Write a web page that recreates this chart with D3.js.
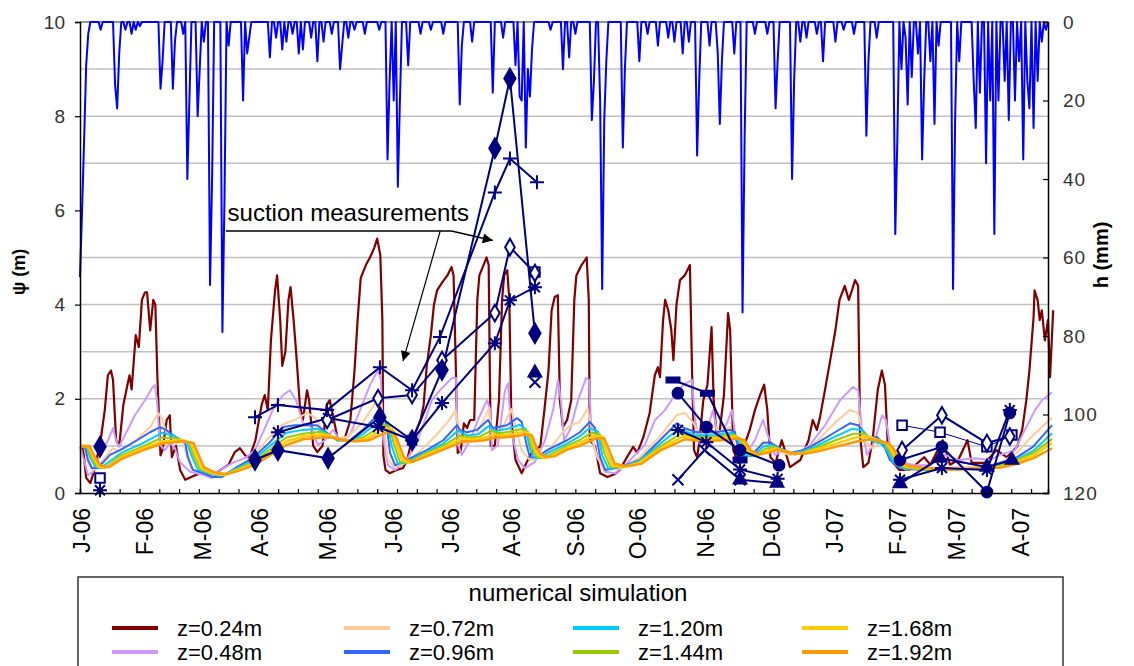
<!DOCTYPE html>
<html><head><meta charset="utf-8">
<script src="https://cdn.jsdelivr.net/npm/d3@7"></script>
<style>
body{margin:0;background:#fff}
svg{display:block}
text{font-family:"Liberation Sans",Arial,sans-serif}
</style>
</head><body>
<svg id="chart" width="1134" height="666"></svg>
<script>
// ---------- DATA ----------
// x values are days since 1 Jan 2006
// category-label positions
const monthTickDays = [1,31.5,59.6,87.2,120.2,152.1,179.7,209.3,240.3,270.3,303.3,335.3,365.8,396.3,424.9,455.9];
const monthLabels = ["J-06","F-06","M-06","A-06","M-06","J-06","J-06","A-06","S-06","O-06","N-06","D-06","J-07","F-07","M-07","A-07"];
const psiTicks = [0,2,4,6,8,10];
const psiGrid = [1,2,3,4,5,7,8,9];
const hTicks = [0,20,40,60,80,100,120];
const depthLabels = ["z=0.24m","z=0.48m","z=0.72m","z=0.96m","z=1.20m","z=1.44m","z=1.68m","z=1.92m"];
const depthColors = ["#800000","#CC99FF","#FFCC99","#3366FF","#00CCFF","#99CC00","#FFCC00","#FF9900"];

// daily rainfall h (mm): [day, mm] for rainy days (other days 0)
const rainEvents = [[0,65],[1,48],[2,30],[3,11],[4,3],[10,2],[17,16],[18,22],[19,8],[22,2],[25,3],[27,2],[29,1],
[39,17],[40,10],[45,17],[46,5],[50,3],[52,40],[53,20],[57,24],[58,12],[60,5],[63,67],[64,40],[69,79],[70,45],[72,6],
[79,20],[81,8],[82,4],[92,9],[95,4],[98,7],[100,5],[103,3],[106,8],[108,7],[112,4],[115,10],[118,5],[122,3],[126,12],[127,6],
[130,4],[133,2],[138,3],[145,2],[149,35],[150,15],[152,20],[154,42],[155,20],[159,11],[165,3],[170,2],[176,3],[184,21],[185,6],
[190,5],[200,18],[205,4],[211,11],[213,19],[214,20],[216,32],[217,12],[218,19],[219,7],[228,2],[234,12],[237,9],[240,3],
[248,25],[249,15],[252,20],[253,68],[254,25],[255,10],[263,32],[264,12],[271,10],[275,3],[280,6],[285,4],[288,5],[292,8],
[295,5],[299,34],[300,15],[305,6],[309,8],[310,26],[311,10],[317,8],[321,74],[322,30],[327,3],[333,3],[337,22],[338,10],
[345,40],[346,15],[349,5],[352,4],[357,3],[360,10],[366,5],[370,2],[375,3],[381,29],[382,10],[386,4],
[395,54],[396,30],[398,12],[400,4],[401,21],[403,14],[406,8],[408,35],[409,15],[412,10],[414,26],[416,6],
[423,68],[424,25],[426,10],[433,15],[434,27],[436,18],[439,36],[441,20],[443,54],[445,20],[448,15],[450,25],[453,20],
[455,10],[457,35],[459,15],[460,22],[462,27],[464,15],[466,5],[468,2]];
const rainLastDay = 469;

// simulated suction psi (m) at each depth: [day, psi]
const sim024 = [[0,0.98],[1.5,0.95],[3,0.32],[5,0.21],[7,0.49],[10,1.12],[12,1.76],[13.5,2.5],[15,2.6],[16,2.4],[17.5,1.12],[19,1.0],[21,1.87],[23,2.3],[24,2.5],[25,2.2],[27,3.35],[28.5,3.1],[30,4.1],[31.5,4.26],[32.5,4.26],[34,3.45],[35.5,4.1],[36.5,4.0],[37.5,2.45],[39,0.8],[40,0.91],[42,1.55],[43.5,1.65],[44.5,0.76],[46.5,1.0],[48.5,0.49],[51,0.28],[56,0.38],[60.5,0.45],[64,0.34],[68,0.49],[72,0.6],[75,0.87],[77.5,0.95],[80,0.8],[82,0.74],[85,1.12],[88,1.87],[89.5,2.08],[91,1.76],[92.5,3.24],[94.5,4.3],[95.5,4.62],[97,3.67],[98,2.7],[99.5,3.0],[101,4.1],[102,4.37],[103.5,3.67],[105,2.82],[106.5,1.87],[108,1.55],[110,2.18],[111,1.97],[113,1.0],[115,0.87],[117.5,1.0],[119.5,1.87],[121,1.97],[123,1.55],[125,1.12],[128,1.12],[131,1.55],[133,2.6],[134.5,3.67],[136,4.56],[138.5,4.84],[140.5,5.0],[142.5,5.2],[144,5.4],[145.5,5.05],[146.5,3.67],[147,0.8],[148,0.49],[150,0.42],[153.5,0.49],[156.5,0.53],[158.5,0.7],[160,0.98],[162,1.23],[165,1.55],[166.5,1.87],[168,2.7],[170,3.35],[171.5,4.0],[173,4.3],[175.5,4.47],[178,4.62],[180,4.8],[181,4.62],[182,2.82],[183,0.85],[184.5,0.91],[186,1.48],[187.5,1.38],[189,1.55],[191,1.55],[192.5,4.1],[193.5,4.62],[195.5,4.84],[197,5.0],[198,4.84],[198.5,2.82],[199,1.0],[201,1.0],[203,1.97],[204.5,4.1],[205.5,4.62],[207,4.73],[208,4.1],[209,1.55],[211,0.7],[214,0.42],[216.5,0.66],[219.5,0.91],[223,0.98],[225,1.76],[227,2.6],[228.5,3.88],[230,4.16],[231.5,4.2],[232.5,1.97],[234,1.4],[236,1.55],[238,1.97],[239.5,4.1],[240.5,4.62],[243,4.84],[245.5,5.0],[246.5,4.1],[247,1.12],[249.5,1.0],[252,0.42],[255.5,0.34],[259,0.4],[261.5,0.49],[265,0.76],[268,0.98],[270,0.85],[273,1.19],[276,1.7],[278.5,2.5],[280,2.67],[281,2.46],[282.5,3.67],[283.5,4.1],[285,3.88],[286.5,3.46],[287.5,2.82],[289,4.0],[290.7,4.52],[293,4.62],[295.5,4.84],[296.5,2.67],[297.5,0.91],[299,0.76],[300,1.06],[302,1.97],[304,2.3],[306,3.52],[307,1.97],[308.5,1.23],[310,1.34],[312,2.08],[314,3.82],[315,3.46],[316.5,0.91],[319,0.64],[321,0.91],[324.5,1.34],[327,1.76],[329.5,2.08],[331.5,2.3],[333,1.76],[334.5,0.76],[337,0.64],[340,1.12],[341.5,0.91],[344,0.55],[349,0.7],[353,1.12],[355,1.55],[357,1.34],[358.5,1.6],[361,2.2],[363.5,2.82],[366,3.46],[368,4.1],[370.5,4.4],[372.5,4.1],[374,4.3],[375.5,4.52],[377,4.4],[378,1.19],[379.5,0.55],[382,0.64],[384,1.12],[386.5,2.18],[388.5,2.6],[390,2.3],[391.5,0.91],[394,0.64],[397,0.49],[402,0.49],[409,0.76],[412,0.6],[418,1.12],[421.5,0.6],[425.5,0.7],[430,1.12],[432,0.64],[438.5,0.64],[444,0.91],[449,0.76],[454,0.98],[456.5,1.34],[458.5,1.97],[460,2.6],[462,3.73],[462.5,4.3],[464,4.09],[465,3.67],[466,3.88],[467.5,3.24],[469,3.67],[470,2.46],[471.5,3.88]];
const sim048 = [[0,0.98],[1.9,0.70],[3.9,0.38],[6.3,0.45],[9.7,0.81],[13.6,1.12],[16,1.38],[17.4,1.12],[18.9,0.98],[21.8,1.23],[26.6,1.65],[31.5,1.97],[34.9,2.23],[36.3,2.29],[37.3,1.97],[38.8,1.02],[41.2,0.91],[43.6,1.06],[46,0.95],[48.4,0.66],[53.3,0.45],[58.1,0.40],[64,0.32],[67.8,0.49],[75,0.66],[80,0.74],[84.8,0.91],[89.6,1.38],[94.5,1.87],[98.4,2.08],[101.7,2.18],[104.7,1.97],[108,1.48],[111.4,1.44],[115.3,1.02],[118.7,1.12],[122.6,1.34],[126,1.12],[130.8,1.23],[135.7,1.76],[140.5,2.29],[144.4,2.61],[145.8,2.40],[146.8,1.19],[149.2,0.59],[152.6,0.49],[157.5,0.66],[162.3,0.98],[167.2,1.55],[170.5,1.97],[174.4,2.18],[180.2,2.44],[182.2,2.44],[183.1,1.02],[185,0.81],[189,1.12],[192.8,1.55],[197.2,1.97],[198.6,1.80],[199.6,0.91],[202.5,1.02],[205.9,2.18],[207.4,2.33],[208.8,1.34],[212.2,0.70],[215.6,0.53],[220.4,0.66],[225.3,1.12],[229.2,1.76],[231.6,2.40],[233,1.97],[234.5,1.12],[237.4,1.34],[241.3,1.97],[245.2,2.44],[246.6,2.40],[248,1.12],[250.5,0.81],[254.4,0.45],[259.2,0.42],[264,0.59],[268.9,0.81],[273.7,1.02],[278.6,1.55],[283.4,1.76],[288.3,2.08],[292.2,2.29],[296.5,2.40],[298,1.55],[300.4,1.02],[303.8,1.34],[306.7,1.76],[308.1,1.44],[310,1.12],[314,1.55],[315.9,1.76],[317.8,1.12],[322.2,0.81],[327,1.12],[330.9,1.55],[333.3,1.23],[336.7,0.81],[341.6,0.91],[346.4,0.81],[353.7,1.02],[361,1.44],[368.2,1.97],[374.5,2.25],[377,2.18],[378.9,1.34],[381.3,0.81],[385.2,1.12],[388.6,1.65],[390.5,1.55],[392.4,1.02],[397.3,0.66],[404.5,0.59],[411.8,0.59],[419,0.81],[426,0.70],[433.6,0.74],[440.9,0.70],[445.7,0.81],[453,0.91],[457.8,1.34],[462.7,1.76],[466.1,1.97],[471,2.14]];
const sim072 = [[0,0.98],[2,0.98],[3.5,0.7],[5.5,0.5],[8,0.5],[12,0.75],[16,0.95],[18,0.9],[22,0.95],[28,1.15],[34,1.4],[38,1.7],[40,1.55],[42,1.25],[46,1.2],[50,1.05],[52,0.75],[54,0.5],[60,0.4],[68,0.33],[76,0.55],[84,0.78],[92,1.2],[98,1.45],[104,1.55],[110,1.7],[114,1.6],[118,1.3],[124,1.15],[130,1.2],[137,1.5],[144,1.97],[146,1.9],[147.5,1.3],[149,0.75],[152,0.55],[157,0.62],[165,0.9],[172,1.2],[178,1.5],[182,1.75],[183.5,1.3],[186,1.05],[190,1.1],[195,1.5],[198,1.78],[199.5,1.3],[203,1.2],[207,1.6],[209,1.78],[211,1.4],[214,0.9],[218,0.7],[223,0.75],[228,0.95],[234,1.3],[238,1.45],[242,1.5],[246,1.8],[247.5,1.4],[250,0.8],[254,0.5],[262,0.52],[271,0.75],[281,1.2],[289,1.65],[293,1.7],[297,1.5],[300,1.25],[306,1.45],[310,1.3],[315,1.4],[317,1.0],[321,0.75],[326,0.85],[331,1.1],[334,1.0],[338,0.9],[344,0.8],[350,0.9],[357,1.1],[366,1.5],[373,1.76],[377,1.7],[380,1.1],[384,0.95],[388,1.1],[391,0.9],[395,0.6],[400,0.5],[410,0.5],[425,0.55],[438,0.55],[446,0.65],[454,0.85],[460,1.15],[466,1.4],[471,1.6]];
const sim096 = [[0,0.98],[2.4,0.98],[3.9,0.70],[5.8,0.53],[8.7,0.53],[14.5,0.81],[19.4,0.91],[27.6,1.12],[33.9,1.29],[38.8,1.40],[41.7,1.34],[45,1.23],[48.4,1.12],[50.9,1.08],[52.3,0.76],[54.7,0.49],[59.6,0.42],[64.4,0.34],[68.8,0.34],[76,0.55],[83.8,0.74],[92,1.08],[98.4,1.40],[104,1.44],[108,1.44],[114.8,1.44],[117.7,1.34],[124.5,1.12],[130.8,1.12],[137,1.34],[145.3,1.70],[147.3,1.65],[148.7,1.40],[150.2,0.85],[152.6,0.59],[156.5,0.66],[168,0.91],[176,1.12],[182.7,1.44],[184,1.34],[187.5,1.29],[192.3,1.34],[197.7,1.55],[200,1.38],[206.9,1.44],[211.7,1.59],[214,1.51],[216.6,0.98],[218,0.76],[221.4,0.76],[226.3,0.91],[236,1.12],[242.2,1.29],[247,1.51],[249.5,1.38],[252,0.76],[254.4,0.49],[261.6,0.55],[271.3,0.70],[281,1.12],[289.2,1.48],[292.6,1.38],[298.9,1.29],[307.6,1.29],[314.9,1.34],[317.3,1.29],[318.8,0.98],[321.2,0.76],[325.6,0.81],[330.9,1.06],[334.3,1.08],[337.7,0.98],[344,0.85],[350.3,0.91],[357,1.06],[365.8,1.29],[373,1.48],[377,1.44],[381.8,1.19],[386.1,1.19],[389,1.06],[392.4,0.70],[397.3,0.53],[408.4,0.49],[421.5,0.49],[437.5,0.53],[445.7,0.64],[454,0.76],[461.7,0.98],[471,1.44]];
const sim120 = [[0,0.98],[3,0.98],[5,0.75],[7.5,0.55],[10,0.53],[20,0.85],[30,1.05],[40,1.28],[46,1.2],[52,1.05],[54,0.8],[57,0.5],[62,0.42],[68,0.36],[76,0.52],[84,0.7],[92,1.0],[100,1.28],[108,1.34],[115,1.36],[118,1.3],[125,1.12],[131,1.1],[137,1.25],[146,1.55],[149,1.5],[151,1.0],[154,0.62],[158,0.64],[168,0.88],[176,1.05],[183,1.32],[188,1.22],[193,1.25],[198,1.42],[201,1.32],[207,1.36],[213,1.45],[216,1.35],[218,0.95],[220,0.75],[223,0.74],[227,0.86],[236,1.05],[242,1.2],[247,1.38],[251,1.3],[253,0.8],[256,0.52],[262,0.55],[271,0.68],[281,1.04],[290,1.36],[299,1.22],[308,1.24],[316,1.28],[319,1.1],[322,0.8],[326,0.78],[331,0.98],[335,1.02],[344,0.84],[350,0.88],[357,1.0],[366,1.2],[374,1.36],[379,1.34],[383,1.12],[388,1.05],[391,0.9],[394,0.66],[398,0.54],[408,0.5],[421,0.5],[438,0.52],[446,0.6],[454,0.72],[462,0.9],[471,1.27]];
const sim144 = [[0,0.98],[3.5,0.98],[6,0.72],[8.5,0.55],[12,0.53],[20,0.8],[30,0.98],[40,1.18],[48,1.15],[53,1.05],[55,0.8],[58,0.52],[63,0.42],[69,0.38],[76,0.5],[84,0.66],[92,0.92],[100,1.18],[108,1.26],[116,1.3],[120,1.25],[126,1.12],[132,1.1],[138,1.2],[147,1.45],[150,1.42],[152,1.05],[155,0.66],[159,0.64],[168,0.85],[176,1.0],[184,1.22],[189,1.18],[194,1.2],[199,1.32],[203,1.27],[208,1.3],[214,1.36],[217,1.3],[219,0.95],[221,0.78],[224,0.74],[228,0.82],[236,1.0],[242,1.12],[248,1.28],[252,1.24],[254,0.85],[257,0.55],[263,0.55],[271,0.66],[281,0.98],[291,1.26],[300,1.18],[309,1.2],[317,1.24],[320,1.12],[323,0.85],[327,0.78],[332,0.94],[336,0.98],[344,0.84],[350,0.86],[357,0.96],[366,1.12],[375,1.26],[380,1.26],[385,1.12],[390,1.05],[392,0.92],[395,0.68],[399,0.55],[408,0.5],[421,0.5],[438,0.52],[446,0.58],[454,0.7],[462,0.85],[471,1.15]];
const sim168 = [[0,1.0],[4,1.0],[6.5,0.75],[9,0.56],[13,0.54],[20,0.76],[30,0.94],[40,1.1],[50,1.12],[54,1.05],[56,0.8],[59,0.52],[64,0.42],[70,0.38],[76,0.48],[84,0.62],[92,0.86],[100,1.1],[108,1.2],[116,1.24],[121,1.22],[127,1.12],[133,1.1],[139,1.16],[148,1.38],[151,1.36],[153,1.08],[156,0.7],[160,0.64],[168,0.82],[176,0.96],[185,1.16],[190,1.14],[195,1.16],[200,1.24],[204,1.22],[209,1.25],[215,1.3],[218,1.25],[220,0.95],[222,0.8],[225,0.74],[229,0.8],[236,0.96],[242,1.06],[249,1.22],[253,1.2],[255,0.9],[258,0.58],[264,0.56],[271,0.64],[281,0.94],[292,1.2],[301,1.14],[310,1.16],[318,1.2],[321,1.12],[324,0.88],[328,0.8],[333,0.9],[337,0.95],[345,0.84],[351,0.85],[358,0.94],[367,1.06],[376,1.18],[382,1.2],[387,1.12],[391,1.05],[393,0.92],[396,0.7],[400,0.56],[408,0.52],[421,0.5],[438,0.52],[446,0.56],[454,0.66],[462,0.8],[471,1.06]];
const sim192 = [[0,1.0],[4.5,1.0],[7,0.78],[10,0.58],[14,0.55],[20,0.72],[30,0.9],[40,1.05],[50,1.1],[55,1.06],[57,0.85],[60,0.55],[65,0.44],[71,0.4],[76,0.46],[84,0.58],[92,0.8],[100,1.02],[108,1.14],[116,1.18],[122,1.18],[128,1.12],[134,1.1],[140,1.12],[149,1.3],[152,1.3],[154,1.1],[157,0.75],[161,0.66],[168,0.78],[176,0.92],[186,1.1],[191,1.1],[196,1.12],[201,1.18],[205,1.18],[210,1.2],[216,1.24],[219,1.22],[221,0.98],[223,0.84],[226,0.76],[230,0.78],[236,0.92],[242,1.0],[250,1.16],[254,1.16],[256,0.95],[259,0.62],[265,0.57],[272,0.62],[281,0.9],[293,1.14],[302,1.1],[311,1.12],[319,1.16],[322,1.12],[325,0.9],[329,0.82],[334,0.86],[338,0.92],[346,0.84],[352,0.84],[359,0.9],[368,1.0],[377,1.1],[383,1.14],[388,1.1],[392,1.05],[394,0.95],[397,0.74],[401,0.58],[408,0.54],[421,0.5],[438,0.52],[446,0.54],[454,0.62],[462,0.74],[471,0.95]];

// suction measurements (m): [day, psi]; null = gap
const measPlus = [[84.8,1.61],[95.9,1.87],[119.7,1.76],[145.3,2.67],[160.9,2.18],[174.4,3.31],[201,6.38],[208.3,7.1],[221.4,6.6]];
const measDiamond = [[9.7,0.98],null,[84.8,0.70],[95.9,0.91],[120.2,0.74],[145.3,1.61],[160.9,1.12],[175.4,2.61],[201,7.32],[208.3,8.8],[220.4,3.39]];
const measOpenDiamond = [[119.7,1.55],[144.4,2.01],[160.9,2.08],[175.4,2.82],[201,3.82],[208.3,5.22],[220.4,4.67],null,[398.3,0.91],[417.6,1.65],[439.4,1.06],[450.5,1.2]];
const measStar = [[9.7,0.06],null,[95.9,1.29],[120.2,1.59],[144.4,1.40],[160.9,1.12],[175.4,1.91],[201,3.18],[208.3,4.09],[220.4,4.37],null,[289.7,1.34],[303.5,1.08],[319.8,0.5],[338,0.3],null,[397.3,0.28],[417.6,0.53],[439.4,0.49],[450.5,1.76]];
const measSquare = [[9.7,0.32],null,[220.4,4.69],null,[398.3,1.44],[416.7,1.29],[439.4,0.98],[451.5,1.23]];
const measCircle = [[289.7,2.12],[303.5,1.40],[319.8,0.91],[338.7,0.59],null,[397.3,0.70],[417.6,0.98],[439.4,0.02],[450.5,1.70]];
const measCross = [[220.4,2.35],null,[289.7,0.28],[302.6,0.91],[319.8,0.28]];
const measTriangle = [[220.4,2.55],null,[319.8,0.28],[337.7,0.21],null,[397.3,0.2],[416.7,0.74],[439.4,0.55],[451.5,0.70]];
const measDash = [[287.3,2.40],[304,2.12],[319.8,0.70]];

// ---------- CHART ----------
const svg = d3.select("#chart");
svg.append("rect").attr("width",1134).attr("height",666).attr("fill","#fff");
const L=80, R=1048, T=22, B=493;
const x = d3.scaleLinear().domain([0,469]).range([L,R]);
const y = d3.scaleLinear().domain([0,10]).range([B,T]);
const yh = d3.scaleLinear().domain([0,120]).range([T,B]);

// grid
svg.append("g").selectAll("line").data(psiGrid).join("line")
  .attr("x1",L).attr("x2",R).attr("y1",d=>y(d)).attr("y2",d=>y(d))
  .attr("stroke","#c0c0c0").attr("stroke-width",1.5);
svg.append("line").attr("x1",L).attr("x2",R).attr("y1",T).attr("y2",T).attr("stroke","#707070").attr("stroke-width",1.5);

// rainfall
const rainMap = new Map(rainEvents.map(d=>[d[0],d[1]]));
const rainDaily = d3.range(0,rainLastDay+1).map(d=>[d, rainMap.get(d)||0]);
svg.append("path").datum(rainDaily)
  .attr("fill","none").attr("stroke","#0000FF").attr("stroke-width",2).attr("stroke-linejoin","round")
  .attr("d", d3.line().x(d=>x(d[0])).y(d=>yh(d[1])));

// simulations
const sims = [sim024,sim048,sim072,sim096,sim120,sim144,sim168,sim192];
const simWidths = [2.2,2,2,2,2,2,2.5,2.5];
const lineP = d3.line().defined(d=>d!==null).x(d=>x(d[0])).y(d=>y(d[1]));
sims.forEach((s,i)=>{
  svg.append("path").datum(s).attr("fill","none").attr("stroke",depthColors[i])
    .attr("stroke-width",simWidths[i]).attr("stroke-linejoin","round").attr("d",lineP);
});

// measurements
const navy="#000080";
const sym = {
  diamond:  {path:d3.symbol(d3.symbolDiamond,110)(), fill:navy},
  odiamond: {path:d3.symbol(d3.symbolDiamond,80)(), fill:"#fff"},
  square:   {path:d3.symbol(d3.symbolSquare,90)(), fill:"#fff"},
  circle:   {path:d3.symbol(d3.symbolCircle,90)(), fill:navy},
  triangle: {path:d3.symbol(d3.symbolTriangle,70)(), fill:navy},
  plus:     {path:"M-7,0H7M0,-7V7", fill:"none"},
  cross:    {path:"M-5.5,-5.5L5.5,5.5M-5.5,5.5L5.5,-5.5", fill:"none"},
  star:     {path:"M-7,0H7M0,-7V7M-5,-5L5,5M-5,5L5,-5", fill:"none"},
  dash:     {path:"M-6.5,-2.5H6.5V2.5H-6.5Z", fill:navy}
};
const measSets = [
  [measSquare,"square",1],[measTriangle,"triangle",2],[measCross,"cross",2],[measDash,"dash",2],
  [measCircle,"circle",2],[measStar,"star",2],[measOpenDiamond,"odiamond",2],[measPlus,"plus",2],[measDiamond,"diamond",2]
];
measSets.forEach(([data,type,w])=>{
  svg.append("path").datum(data).attr("fill","none").attr("stroke",navy).attr("stroke-width",w)
    .attr("d",lineP);
});
measSets.forEach(([data,type])=>{
  svg.append("g").selectAll("path").data(data.filter(d=>d)).join("path")
    .attr("transform",d=>`translate(${x(d[0])},${y(d[1])})`)
    .attr("d",sym[type].path).attr("fill",sym[type].fill)
    .attr("stroke",navy).attr("stroke-width",2);
});

// axes
const axL = svg.append("g").attr("transform",`translate(${L},0)`)
  .call(d3.axisLeft(y).tickValues(psiTicks).tickSize(5).tickPadding(10).tickFormat(d3.format("d")));
const axR = svg.append("g").attr("transform",`translate(${R},0)`)
  .call(d3.axisRight(yh).tickValues(hTicks).tickSize(-5).tickPadding(15));
const axB = svg.append("g").attr("transform",`translate(0,${B})`)
  .call(d3.axisBottom(x).tickValues(d3.range(0,470,9.6)).tickSize(-4).tickFormat(""));
[axL,axR,axB].forEach(a=>{
  a.select(".domain").attr("stroke","#000").attr("stroke-width",1.5);
  a.selectAll(".tick line").attr("stroke","#000").attr("stroke-width",1.2);
  a.selectAll("text").attr("font-size",19).attr("fill","#333").style("font-family","'Liberation Sans',Arial,sans-serif");
});
axR.selectAll("text").attr("letter-spacing","1px");
// month labels
svg.append("g").selectAll("text").data(monthTickDays).join("text")
  .attr("transform",d=>`translate(${x(d)},${B+15}) rotate(-90)`)
  .attr("text-anchor","end").attr("dominant-baseline","central")
  .attr("font-size",23).attr("fill","#000").text((d,i)=>monthLabels[i]);

// axis titles
svg.append("text").attr("transform","translate(25,272) rotate(-90)").attr("text-anchor","middle")
  .attr("font-size",18).attr("font-weight","bold").text("\u03C8 (m)");
svg.append("text").attr("transform","translate(1108,255) rotate(-90)").attr("text-anchor","middle")
  .attr("font-size",20).attr("font-weight","bold").text("h (mm)");

// annotation
const defs = svg.append("defs");
defs.append("marker").attr("id","ah").attr("viewBox","0 0 10 10").attr("refX",10).attr("refY",5)
  .attr("markerWidth",12).attr("markerHeight",10).attr("markerUnits","userSpaceOnUse").attr("orient","auto")
  .append("path").attr("d","M0,0L10,5L0,10Z").attr("fill","#000");
svg.append("text").attr("x",x(71.5)).attr("y",y(5.78)).attr("font-size",24).attr("fill","#000").text("suction measurements");
svg.append("path").attr("fill","none").attr("stroke","#000").attr("stroke-width",1.5)
  .attr("d",`M${x(70.7)},${y(5.56)}H${x(180)}L${x(200)},${y(5.36)}`).attr("marker-end","url(#ah)");
svg.append("path").attr("fill","none").attr("stroke","#000").attr("stroke-width",1.2)
  .attr("d",`M${x(174.5)},${y(5.56)}L${x(156.5)},${y(2.8)}`).attr("marker-end","url(#ah)");

// legend
const lg = svg.append("g");
lg.append("rect").attr("x",78).attr("y",577).attr("width",985).attr("height",120)
  .attr("fill","#fff").attr("stroke","#333").attr("stroke-width",1.5);
lg.append("text").attr("x",578).attr("y",601).attr("text-anchor","middle").attr("font-size",24).text("numerical simulation");
const colX=[112,344,573,802], rowY=[628,652];
depthLabels.forEach((lab,i)=>{
  const c=Math.floor(i/2), r=i%2;
  lg.append("line").attr("x1",colX[c]).attr("x2",colX[c]+46).attr("y1",rowY[r]).attr("y2",rowY[r])
    .attr("stroke",depthColors[i]).attr("stroke-width",4);
  lg.append("text").attr("x",colX[c]+65).attr("y",rowY[r]).attr("dominant-baseline","central")
    .attr("font-size",22).text(lab);
});
</script>
</body></html>
